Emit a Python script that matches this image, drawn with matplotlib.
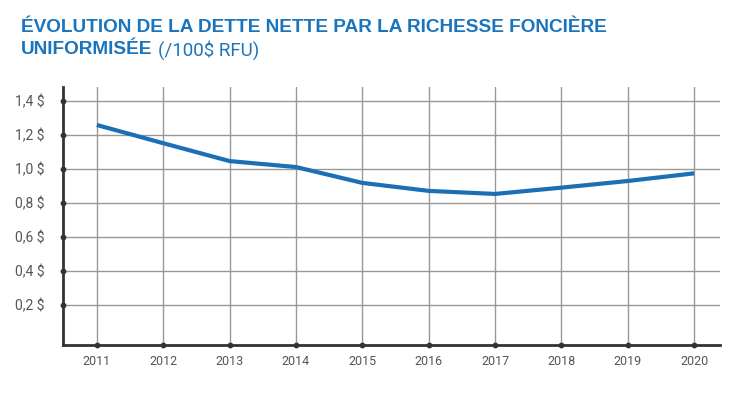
import matplotlib
matplotlib.use('Agg')
import matplotlib.pyplot as plt

years = [2011, 2012, 2013, 2014, 2015, 2016, 2017, 2018, 2019, 2020]
dette = [1.257, 1.15, 1.045, 1.01, 0.917, 0.87, 0.852, 0.889, 0.928, 0.973]
y_ticks = [0.2, 0.4, 0.6, 0.8, 1.0, 1.2, 1.4]
y_labels = [r'0,2 \$', r'0,4 \$', r'0,6 \$', r'0,8 \$', r'1,0 \$', r'1,2 \$', r'1,4 \$']

BLUE = '#1a6fb5'
TITLE_BLUE = '#1b75bc'
GRID = '#999999'
AXIS = '#333333'
TEXT = '#555555'

plt.rcParams['font.family'] = ['Roboto', 'DejaVu Sans']

W, H = 754, 396
fig = plt.figure(figsize=(W / 100, H / 100), dpi=100)
ax = fig.add_axes([63 / W, (H - 345) / H, (720 - 63) / W, (345 - 87) / H])

xmin, xmax = 2010.49, 2020.39
ymin, ymax = -0.035, 1.48
ax.set_xlim(xmin, xmax)
ax.set_ylim(ymin, ymax)

# grid
for y in y_ticks:
    ax.axhline(y, color=GRID, lw=1, zorder=1)
for x in years:
    ax.axvline(x, color=GRID, lw=1, zorder=1)

ax.plot(years, dette, color=BLUE, lw=3, solid_capstyle='butt', zorder=3)

for s in ['top', 'right']:
    ax.spines[s].set_visible(False)
for s in ['left', 'bottom']:
    ax.spines[s].set_color(AXIS)
    ax.spines[s].set_linewidth(2)
    ax.spines[s].set_zorder(4)

# dots on the axes at tick positions
ax.scatter(years, [ymin] * len(years), s=10, color=AXIS, zorder=5, clip_on=False)
ax.scatter([xmin] * len(y_ticks), y_ticks, s=10, color=AXIS, zorder=5, clip_on=False)

ax.set_xticks(years)
ax.set_xticklabels([str(y) for y in years])
ax.set_yticks(y_ticks)
ax.set_yticklabels(y_labels)
ax.tick_params(length=0, labelcolor=TEXT)
ax.tick_params(axis='x', pad=7, labelsize=9)
ax.tick_params(axis='y', pad=13, labelsize=10)

# title
title_font = ['Liberation Sans', 'DejaVu Sans']
fig.text(21 / W, 1 - 28 / H, 'ÉVOLUTION DE LA DETTE NETTE PAR LA RICHESSE FONCIÈRE',
         fontsize=13.7, fontweight='bold', color=TITLE_BLUE, va='center', ha='left',
         family=title_font)
t2 = fig.text(21 / W, 1 - 50 / H, 'UNIFORMISÉE', fontsize=13.7, fontweight='bold',
              color=TITLE_BLUE, va='center', ha='left', family=title_font)
fig.canvas.draw()
bb = t2.get_window_extent(renderer=fig.canvas.get_renderer())
fig.text((bb.x1 + 6) / W, 1 - 50 / H, r'(/100\$ RFU)', fontsize=13.5,
         color=TITLE_BLUE, va='center', ha='left')

fig.savefig('out.png', dpi=100)
